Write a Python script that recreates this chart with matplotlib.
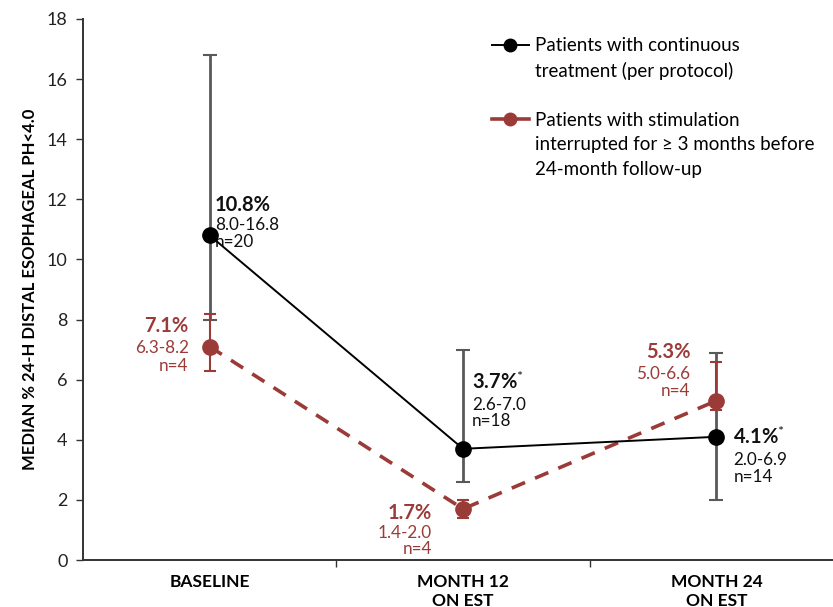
import numpy as np
import matplotlib.pyplot as plt
from matplotlib.lines import Line2D

plt.rcParams['font.family'] = ['Lato', 'DejaVu Sans']
plt.rcParams['mathtext.fontset'] = 'custom'
plt.rcParams['mathtext.rm'] = 'Lato'
plt.rcParams['mathtext.bf'] = 'Lato:bold'

# 数据
categories = ['BASELINE', 'MONTH 12\nON EST', 'MONTH 24\nON EST']
cont_median = [10.8, 3.7, 4.1]
cont_low = [8.0, 2.6, 2.0]
cont_high = [16.8, 7.0, 6.9]
cont_n = [20, 18, 14]
cont_star = [False, True, True]

intr_median = [7.1, 1.7, 5.3]
intr_low = [6.3, 1.4, 5.0]
intr_high = [8.2, 2.0, 6.6]
intr_n = [4, 4, 4]

cont_label = ['Patients with continuous', 'treatment (per protocol)']
intr_label = ['Patients with stimulation',
              'interrupted for \u2265 3 months before',
              '24-month follow-up']

BLACK = '#000000'
GREY = '#595959'
RED = '#9b3b38'

fig = plt.figure(figsize=(8.33, 6.07), dpi=100)
ax = fig.add_axes([0.0996, 0.0774, 0.9004, 0.8913])

x = np.arange(len(categories))

cont_err = [np.array(cont_median) - np.array(cont_low),
            np.array(cont_high) - np.array(cont_median)]
intr_err = [np.array(intr_median) - np.array(intr_low),
            np.array(intr_high) - np.array(intr_median)]

ax.errorbar(x, cont_median, yerr=cont_err, fmt='none', ecolor=GREY,
            elinewidth=2, capsize=5, capthick=1.5, zorder=2)
ax.errorbar(x, intr_median, yerr=intr_err, fmt='none', ecolor=RED,
            elinewidth=1.5, capsize=4.5, capthick=1.5, zorder=3)
ax.plot(x, intr_median, color=RED, lw=2.6, ls=(0, (4, 3)), marker='o',
        markersize=11, zorder=4)
ax.plot(x, cont_median, color=BLACK, lw=1.4, marker='o', markersize=11,
        zorder=5)

# 标注 (偏移以像素计)
cont_offsets = [(5, 30, 10, -7), (9, 67, 44, 28), (17, 0, -23, -40)]
intr_offsets = [(-21, 21, -1, -19), (-31, -4, -24, -40), (-26, 49, 27, 10)]


def label(xi, yi, offs, pct, rng, n, color, ha):
    dx, d1, d2, d3 = offs
    kw = dict(xycoords='data', textcoords='offset pixels', ha=ha,
              va='center', color=color)
    ax.annotate(pct, (xi, yi), xytext=(dx, d1), fontsize=14.5,
                fontweight='bold', **kw)
    ax.annotate(rng, (xi, yi), xytext=(dx, d2), fontsize=12.3, **kw)
    ax.annotate(n, (xi, yi), xytext=(dx, d3), fontsize=12.3, **kw)


for i in range(len(categories)):
    pct = f'{cont_median[i]:.1f}%'
    if cont_star[i]:
        pct += r'$^{*}$'
    label(x[i], cont_median[i], cont_offsets[i], pct,
          f'{cont_low[i]:.1f}-{cont_high[i]:.1f}', f'n={cont_n[i]}',
          '#111111', 'left')
    label(x[i], intr_median[i], intr_offsets[i], f'{intr_median[i]:.1f}%',
          f'{intr_low[i]:.1f}-{intr_high[i]:.1f}', f'n={intr_n[i]}',
          RED, 'right')

ax.set_ylim(0, 18)
ax.set_yticks(np.arange(0, 19, 2))
ax.set_xlim(-0.5, 2.46)
ax.set_xticks([0.5, 1.5])
ax.set_xticklabels([])
ax.set_xticks(x, minor=True)
ax.set_xticklabels(categories, minor=True, fontweight='bold', fontsize=12.5)
ax.tick_params(axis='x', which='minor', length=0, pad=10)
ax.tick_params(axis='x', which='major', length=5, width=1, color='#333333')
ax.tick_params(axis='y', length=5, width=1, color='#333333',
               labelsize=13, labelcolor='#222222', pad=6)

for s in ['top', 'right']:
    ax.spines[s].set_visible(False)
for s in ['left', 'bottom']:
    ax.spines[s].set_linewidth(1.4)
    ax.spines[s].set_color('#333333')

ax.set_ylabel('MEDIAN % 24-H DISTAL ESOPHAGEAL PH<4.0', fontweight='bold',
              fontsize=12, labelpad=6)

# 图例：句柄对齐首行，续行用空句柄
blank = Line2D([], [], linestyle='none')
handles = ([Line2D([], [], color=BLACK, lw=1.4, marker='o', markersize=9)]
           + [blank] * (len(cont_label) - 1) + [blank]
           + [Line2D([], [], color=RED, lw=2.6, marker='o', markersize=9)]
           + [blank] * (len(intr_label) - 1))
labels = cont_label + [' '] + intr_label
ax.legend(handles, labels, loc='upper left', bbox_to_anchor=(0.535, 0.98),
          frameon=False, fontsize=13.5, handlelength=2.0,
          handletextpad=0.3, labelspacing=0.4, borderaxespad=0)

fig.savefig('out.png', dpi=100)
